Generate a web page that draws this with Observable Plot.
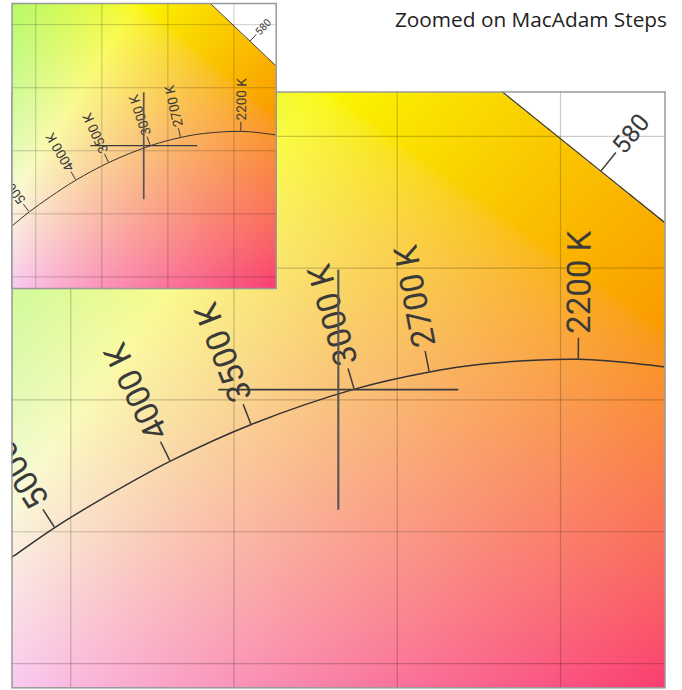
<!DOCTYPE html>
<html><head><meta charset="utf-8">
<script src="https://cdn.jsdelivr.net/npm/d3@7"></script>
<script src="https://cdn.jsdelivr.net/npm/@observablehq/plot@0.6"></script>
<style>
body{margin:0;background:#fff;}
#wrap{position:relative;width:682px;height:690px;overflow:hidden;background:#fff;}
#main,#inset{position:absolute;left:0;top:0;}
#title{position:absolute;right:15px;top:8.5px;font-family:"Open Sans";font-size:20.8px;line-height:20px;color:#222;white-space:nowrap;}
</style></head><body>
<div id="wrap"><div id="main"></div><div id="inset"></div><div id="title">Zoomed on MacAdam Steps</div></div>
<script>
// ---- data (CIE 1931 xy) ----
const xDomain = [0.332, 0.532];
const yDomain = [0.2908, 0.5168];
const gridXTicks = [0.35, 0.40, 0.45, 0.50];
const gridYTicks = [0.30, 0.35, 0.40, 0.45, 0.50];
// Planckian locus
const locusTemps = [1900, 2000, 2200, 2500, 2700, 3000, 3500, 4000, 4500, 5000, 5500, 6000];
const locusX     = [0.5385, 0.5267, 0.5056, 0.4770, 0.4599, 0.4369, 0.4053, 0.3805, 0.3611, 0.3451, 0.3325, 0.3221];
const locusY     = [0.4112, 0.4133, 0.4154, 0.4137, 0.4106, 0.4041, 0.3907, 0.3768, 0.3636, 0.3516, 0.3408, 0.3318];
const cctLabels  = [2200, 2700, 3000, 3500, 4000, 5000];
// spectral locus
const spectralNm = [560, 565, 570, 575, 580, 585, 590];
const spectralX  = [0.3731, 0.4087, 0.4441, 0.4788, 0.5125, 0.5448, 0.5752];
const spectralY  = [0.6245, 0.5896, 0.5547, 0.5202, 0.4866, 0.4544, 0.4242];
const spectralLabels = [580];
// MacAdam cross centre
const crossX = [0.4321];
const crossY = [0.4037];

const locusTable = locusTemps.map((t, i) => ({t, x: locusX[i], y: locusY[i]}));
const spectralTable = spectralNm.map((nm, i) => ({nm, x: spectralX[i], y: spectralY[i]}));

function spectralYAt(x) {
  for (let i = 0; i < spectralX.length - 1; i++) {
    const x0 = spectralX[i], x1 = spectralX[i + 1];
    if (x >= x0 && x <= x1) {
      const t = (x - x0) / (x1 - x0);
      return spectralY[i] + t * (spectralY[i + 1] - spectralY[i]);
    }
  }
  return Infinity;
}
const GAIN = 0.98;
function chromaColor(x, y) {
  if (y > spectralYAt(x)) return "#ffffff";
  const X = x / y, Y = 1, Z = (1 - x - y) / y;
  // XYZ -> linear RGB (wide-gamut primaries), normalised to the max channel
  let r = 2.0414 * X - 0.5649 * Y - 0.3447 * Z;
  let g = -0.9693 * X + 1.8760 * Y + 0.0416 * Z;
  let b = 0.0134 * X - 0.1184 * Y + 1.0154 * Z;
  r = Math.max(0, r); g = Math.max(0, g); b = Math.max(0, b);
  const m = Math.max(r, g, b);
  const enc = v => Math.round(255 * GAIN * Math.pow(v / m, 1 / 2.2));
  return `rgb(${enc(r)},${enc(g)},${enc(b)})`;
}

function annotations(st) {
  return (index, scales, values, dim) => {
    const sx = scales.x, sy = scales.y;
    const g = d3.create("svg:g");
    const id = "clip-" + st.name;
    g.append("clipPath").attr("id", id).append("rect")
      .attr("x", dim.marginLeft).attr("y", dim.marginTop)
      .attr("width", dim.width - dim.marginLeft - dim.marginRight)
      .attr("height", dim.height - dim.marginTop - dim.marginBottom);
    const c = g.append("g").attr("clip-path", `url(#${id})`);
    function label(px, py, nx, ny, tick, gap, text, size) {
      c.append("line").attr("x1", px).attr("y1", py)
        .attr("x2", px + nx * tick).attr("y2", py + ny * tick)
        .attr("stroke", "#3a3a3a").attr("stroke-width", st.lw);
      const tx = px + nx * (tick + gap), ty = py + ny * (tick + gap);
      const ang = Math.atan2(ny, nx) * 180 / Math.PI;
      c.append("text").attr("x", tx).attr("y", ty)
        .attr("transform", `rotate(${ang},${tx},${ty})`)
        .attr("text-anchor", "start").attr("dominant-baseline", "central")
        .attr("font-family", "Roboto").attr("font-size", size)
        .attr("fill", "#3a3a3a").text(text);
    }
    for (const t of cctLabels) {
      const i = locusTemps.indexOf(t);
      const px = sx(locusX[i]), py = sy(locusY[i]);
      const dx = sx(locusX[i + 1]) - sx(locusX[i - 1]);
      const dy = sy(locusY[i + 1]) - sy(locusY[i - 1]);
      let nx = dy, ny = -dx;
      if (ny > 0) { nx = -nx; ny = -ny; }
      const L = Math.hypot(nx, ny); nx /= L; ny /= L;
      label(px, py, nx, ny, st.tick, st.gap, `${t} K`, st.font);
    }
    for (const nm of spectralLabels) {
      const i = spectralNm.indexOf(nm);
      const px = sx(spectralX[i]), py = sy(spectralY[i]);
      const dx = sx(spectralX[i + 1]) - sx(spectralX[i - 1]);
      const dy = sy(spectralY[i + 1]) - sy(spectralY[i - 1]);
      let nx = dy, ny = -dx;
      if (ny > 0) { nx = -nx; ny = -ny; }
      const L = Math.hypot(nx, ny); nx /= L; ny /= L;
      label(px, py, nx, ny, st.stick, st.sgap, `${nm}`, st.sfont);
    }
    // cross
    const cx = sx(crossX[0]), cy = sy(crossY[0]);
    c.append("line").attr("x1", cx - st.cross).attr("x2", cx + st.cross).attr("y1", cy).attr("y2", cy)
      .attr("stroke", "#3c3c3c").attr("stroke-width", st.clw);
    c.append("line").attr("x1", cx).attr("x2", cx).attr("y1", cy - st.cross).attr("y2", cy + st.cross)
      .attr("stroke", "#555").attr("stroke-width", st.clw * 1.3);
    return g.node();
  };
}

function chart(st) {
  return Plot.plot({
    width: st.width, height: st.height,
    marginLeft: st.ml, marginRight: st.mr, marginTop: st.mt, marginBottom: st.mb,
    x: {domain: xDomain, axis: null},
    y: {domain: yDomain, axis: null},
    color: {type: "identity"},
    style: {background: "transparent"},
    marks: [
      Plot.raster({x1: xDomain[0], x2: xDomain[1], y1: yDomain[0], y2: yDomain[1], fill: chromaColor, pixelSize: st.px}),
      Plot.ruleX(gridXTicks, {x: d => d, stroke: "#000", strokeOpacity: 0.2, strokeWidth: st.glw}),
      Plot.ruleY(gridYTicks, {y: d => d, stroke: "#000", strokeOpacity: 0.2, strokeWidth: st.glw}),
      Plot.line(spectralTable, {x: "x", y: "y", stroke: "#333", strokeWidth: st.slw, clip: true}),
      Plot.line(locusTable, {x: "x", y: "y", curve: "catmull-rom", stroke: "#333", strokeWidth: st.lw, clip: true}),
      annotations(st),
      Plot.frame({stroke: "#999", strokeWidth: 1.5})
    ]
  });
}

const mainSt = {name: "main", width: 682, height: 690, ml: 11.5, mr: 17.5, mt: 91.5, mb: 2.7, px: 2,
  glw: 1.2, lw: 1.5, slw: 1.2, tick: 21, gap: 4, font: 33, stick: 24, sgap: 3, sfont: 25, cross: 120, clw: 1.6};
const insetSt = {name: "inset", width: 277, height: 290, ml: 11.5, mr: 1.3, mt: 3, mb: 2, px: 1,
  glw: 1, lw: 1, slw: 0.9, tick: 9, gap: 1.5, font: 13.5, stick: 9, sgap: 1.5, sfont: 10.5, cross: 53.5, clw: 1.3};

document.getElementById("main").append(chart(mainSt));
document.getElementById("inset").append(chart(insetSt));
</script>
</body></html>
